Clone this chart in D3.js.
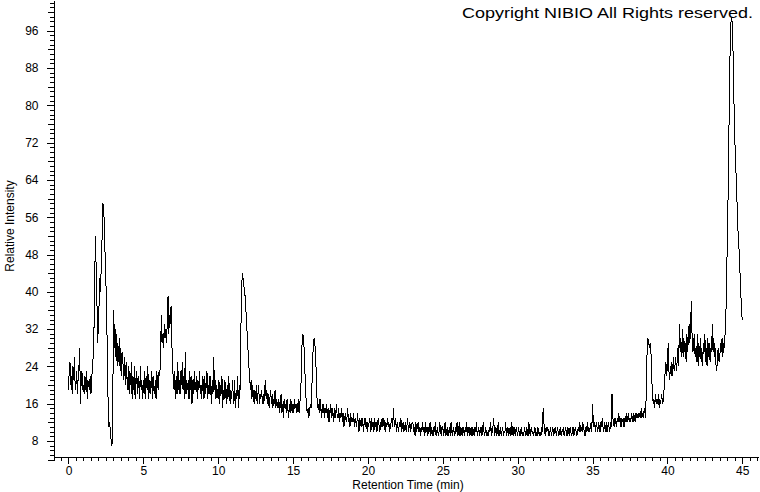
<!DOCTYPE html>
<html>
<head>
<meta charset="utf-8">
<script src="https://cdn.jsdelivr.net/npm/d3@7"></script>
<style>
  html, body { margin: 0; padding: 0; background: #fff; }
  svg { display: block; }
  text { font-family: "Liberation Sans", Arial, sans-serif; fill: #000; }
</style>
</head>
<body>
<svg id="chart" width="760" height="492"></svg>
<script>
// Sampling of the trace: one value every 0.05 min, one row per minute
const timeStep = 0.05;
// Relative intensity rows (row k = minutes k.00 … k.95)
const intensityRows = [
  [19,23,25,20,22,18,24,21,26,19,20,23,18,22,24,28,16,21,23,19],
  [20,18,22,19,23,17,21,20,19,22,18,21,24,26,31,42,52,45,38,29],
  [33,38,43,40,48,52,59,57,55,47,42,36,25,16,11,12,10,8,7,9],
  [36,28,33,26,31,24,29,25,30,23,28,22,27,24,21,26,20,25,22,19],
  [24,18,23,20,25,17,22,19,24,17,21,23,18,22,20,17,24,19,21,17],
  [21,18,23,17,22,19,24,17,21,18,20,23,17,22,19,18,21,17,23,20],
  [19,23,22,26,35,29,31,28,33,30,32,29,34,39,31,35,33,37,30,23],
  [22,19,23,17,22,18,25,19,21,18,23,20,25,19,22,17,27,18,21,19],
  [21,17,23,19,22,16,21,18,23,19,20,22,17,21,19,23,18,20,17,22],
  [21,17,22,18,20,23,17,20,18,22,19,16,21,18,26,19,21,17,20,18],
  [17,21,16,20,18,22,15,19,17,21,18,16,20,17,22,18,16,19,17,21],
  [18,16,21,15,19,17,22,15,20,17,30,37,44,43,42,40,39,36,33,30],
  [27,24,22,19,21,17,20,18,16,19,17,20,16,18,20,16,18,17,19,16],
  [18,16,19,21,17,19,16,18,15,17,19,16,18,15,17,16,19,15,17,16],
  [15,17,14,16,18,14,16,13,17,15,16,14,17,15,13,16,14,17,15,14],
  [16,14,17,15,16,14,15,17,14,16,18,22,29,31,30,27,22,18,15,14],
  [15,13,14,16,15,19,24,29,30,29,27,22,17,15,16,14,17,15,13,16],
  [14,16,13,15,14,16,13,15,12,14,16,13,15,14,12,15,13,14,16,13],
  [13,15,12,14,13,15,12,14,11,13,14,12,13,15,12,13,11,14,12,13],
  [12,14,11,13,12,11,14,12,10,13,12,11,13,12,10,12,13,11,12,10],
  [12,11,13,12,10,13,11,12,10,13,11,12,10,12,13,11,10,12,11,13],
  [11,13,12,10,12,11,13,11,12,10,11,12,13,11,15,12,11,13,10,12],
  [11,10,12,11,13,10,11,12,10,11,12,10,11,13,10,11,12,10,11,12],
  [12,10,11,9,12,10,11,12,10,11,9,11,10,12,10,11,9,12,10,11],
  [9,11,10,12,9,11,10,9,11,10,12,9,10,11,9,10,12,10,9,11],
  [11,9,10,12,9,10,11,9,10,11,9,12,10,9,11,10,9,11,10,12],
  [9,10,12,9,11,10,9,11,10,9,11,10,12,9,10,11,9,10,11,9],
  [11,10,9,11,10,12,9,10,11,9,10,11,9,10,12,10,9,11,10,9],
  [10,9,11,10,12,9,10,11,13,9,10,11,9,10,12,9,10,11,9,10],
  [11,9,10,10,12,9,10,11,9,10,11,9,12,10,9,11,10,9,11,10],
  [9,11,10,9,10,11,9,10,9,11,10,9,11,10,9,12,10,9,11,10],
  [10,9,10,11,9,10,9,11,10,9,10,9,11,10,15,12,10,9,11,10],
  [11,10,9,10,11,9,10,11,9,10,11,10,9,11,10,9,10,11,9,10],
  [10,11,9,10,11,10,9,11,10,9,11,10,9,10,11,9,10,11,10,9],
  [10,11,10,12,10,11,10,12,11,10,9,11,10,12,10,11,10,11,12,10],
  [16,12,11,12,10,12,11,10,12,11,10,12,11,13,11,10,12,11,10,12],
  [10,12,11,10,12,11,18,13,12,11,13,12,11,13,12,14,12,13,11,13],
  [12,13,11,13,12,14,12,13,14,12,13,12,14,13,12,14,13,12,14,13],
  [13,14,13,14,13,15,13,14,13,15,14,13,21,28,30,29,28,29,27,22],
  [18,16,17,15,18,16,17,16,18,15,17,16,18,17,16,18,20,23,25,22],
  [24,29,23,21,24,22,25,22,26,23,24,26,23,25,28,24,33,27,30,26],
  [32,26,30,27,29,25,31,27,30,33,29,33,38,30,27,29,31,26,28,25],
  [31,24,29,26,30,25,28,24,29,27,31,25,28,24,30,26,29,25,28,27],
  [33,27,30,26,28,24,23,27,28,25,26,29,27,30,26,29,28,31,35,40],
  [52,60,72,85,94,98,99,96,89,80,73,68,64,59,54,51,48,44,40,36],
  [34]
];
const xTickLabels = [0,5,10,15,20,25,30,35,40,45];
const yTickLabels = [8,16,24,32,40,48,56,64,72,80,88,96];
const xTitle = "Retention Time (min)";
const yTitle = "Relative Intensity";
const copyright = "Copyright NIBIO All Rights reserved.";

const data = intensityRows.flatMap((row, k) => row.map((v, j) => ({ t: k + j * timeStep, v })));

const svg = d3.select("#chart");
const x = d3.scaleLinear().domain([-1, 46.05]).range([53.5, 758]);
const y = d3.scaleLinear().domain([4.67, 102.5]).range([456.5, 0.5]);

const font = '"Liberation Sans", Arial, sans-serif';

// X axis: minor ticks every 0.5 min
svg.append("g")
  .attr("transform", `translate(0,${y(4.67)})`)
  .call(d3.axisBottom(x).tickValues(d3.range(-1, 46.01, 0.5)).tickSize(4).tickSizeOuter(0).tickFormat(""))
  .call(g => g.selectAll("line,path").attr("stroke", "#000").attr("shape-rendering", "crispEdges"));
svg.append("g")
  .attr("transform", `translate(0,${y(4.67)})`)
  .call(d3.axisBottom(x).tickValues(xTickLabels).tickSize(7).tickPadding(3).tickSizeOuter(0))
  .call(g => g.select(".domain").remove())
  .call(g => g.selectAll("line").attr("stroke", "#000").attr("shape-rendering", "crispEdges"))
  .call(g => g.selectAll("text").attr("font-size", 12).attr("font-family", font).attr("fill", "#000"));

// Y axis: minor ticks every 1 unit, medium every 4
svg.append("g")
  .attr("transform", `translate(${x(-1)},0)`)
  .call(d3.axisLeft(y).tickValues(d3.range(5, 103, 1)).tickSize(4).tickSizeOuter(0).tickFormat(""))
  .call(g => g.selectAll("line,path").attr("stroke", "#000").attr("shape-rendering", "crispEdges"));
svg.append("g")
  .attr("transform", `translate(${x(-1)},0)`)
  .call(d3.axisLeft(y).tickValues(d3.range(4, 101, 8)).tickSize(6).tickFormat(""))
  .call(g => g.select(".domain").remove())
  .call(g => g.selectAll("line").attr("stroke", "#000").attr("shape-rendering", "crispEdges"));
svg.append("g")
  .attr("transform", `translate(${x(-1)},0)`)
  .call(d3.axisLeft(y).tickValues(yTickLabels).tickSize(7).tickPadding(8))
  .call(g => g.select(".domain").remove())
  .call(g => g.selectAll("line").attr("stroke", "#000").attr("shape-rendering", "crispEdges"))
  .call(g => g.selectAll("text").attr("font-size", 12).attr("font-family", font).attr("fill", "#000"));

// Trace
const line = d3.line().x(d => x(d.t)).y(d => y(d.v));
svg.append("path")
  .datum(data)
  .attr("fill", "none")
  .attr("stroke", "#000")
  .attr("stroke-width", 1)
  .attr("shape-rendering", "crispEdges")
  .attr("d", line);

// Titles
svg.append("text")
  .attr("x", 408).attr("y", 489)
  .attr("text-anchor", "middle")
  .attr("font-size", 12)
  .text(xTitle);
svg.append("text")
  .attr("transform", "translate(14,226) rotate(-90)")
  .attr("text-anchor", "middle")
  .attr("font-size", 12)
  .text(yTitle);
svg.append("text")
  .attr("x", 462).attr("y", 18)
  .attr("font-size", 15)
  .attr("textLength", 291)
  .attr("lengthAdjust", "spacingAndGlyphs")
  .text(copyright);
</script>
</body>
</html>
